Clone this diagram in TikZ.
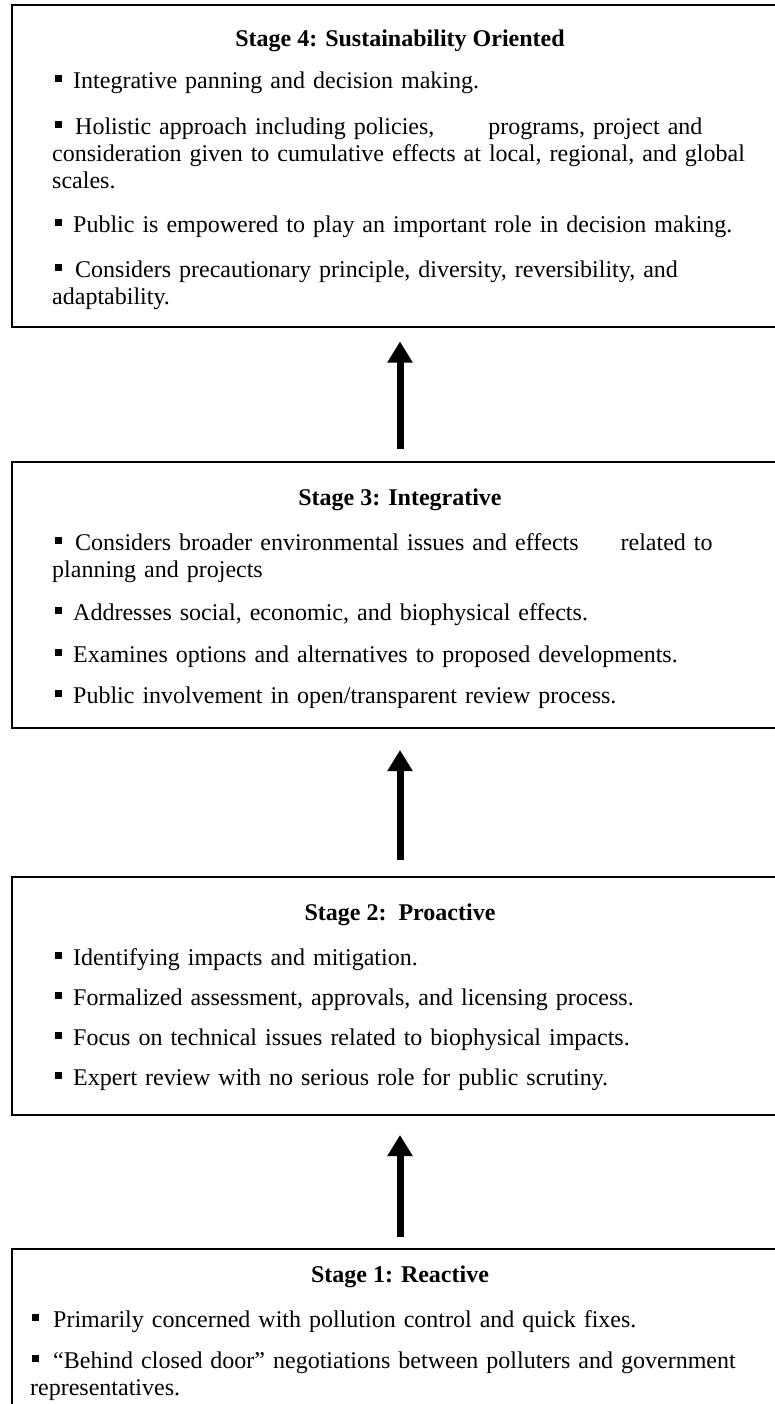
\documentclass[tikz,border=0pt]{standalone}
\usepackage{fontspec}
\setmainfont{Liberation Serif}
\usetikzlibrary{arrows.meta}
% small square bullet
\newcommand{\sqbul}{\rule[6.5pt]{7pt}{7pt}}
\newcommand{\firstln}[1]{\hspace*{3pt}\sqbul\hspace*{11pt}#1}
\begin{document}
\begin{tikzpicture}[x=1pt,y=-1pt,
  stagebox/.style={draw, line width=2pt, rectangle, anchor=north west,
    minimum width=778pt, inner sep=0pt, outer sep=0pt},
  heading/.style={anchor=base, inner sep=0pt,
    font=\fontsize{24}{27}\selectfont\bfseries},
  item/.style={anchor=base west, inner sep=0pt, align=left, text width=740pt,
    font=\fontsize{24}{27}\selectfont},
  uparrow/.style={line width=7pt, -{Triangle[width=24pt,length=21pt]}}]
\useasboundingbox (0,0) rectangle (775,1404);
\clip (0,0) rectangle (775,1404);

% stage frames
\node[stagebox, minimum height=321pt] (s4) at (11.5,5.5) {};
\node[stagebox, minimum height=266pt] (s3) at (11.5,462) {};
\node[stagebox, minimum height=238pt] (s2) at (11.5,877) {};
\node[stagebox, minimum height=200pt] (s1) at (11.5,1249) {};

% Stage 4
\node[heading] (t4) at (400,47) {Stage 4: Sustainability Oriented};
\node[item] (i4a) at (52,89) {\firstln{Integrative panning and decision making.}};
\node[item] (i4b) at (52,135) {\hspace*{3pt}\sqbul\hspace*{13pt}Holistic approach including policies,\hspace{54pt}programs, project and\\
  consideration given to cumulative effects at local, regional, and global\\
  scales.};
\node[item] (i4c) at (52,233) {\firstln{Public is empowered to play an important role in decision making.}};
\node[item] (i4d) at (52,278) {\hspace*{3pt}\sqbul\hspace*{13pt}Considers precautionary principle, diversity, reversibility, and\\
  adaptability.};

% Stage 3
\node[heading] (t3) at (400,505) {Stage 3: Integrative};
\node[item] (i3a) at (52,550) {\hspace*{3pt}\sqbul\hspace*{13pt}Considers broader environmental issues and effects\hspace{42pt}related to\\
  planning and projects};
\node[item] (i3b) at (52,620) {\firstln{Addresses social, economic, and biophysical effects.}};
\node[item] (i3c) at (52,662) {\firstln{Examines options and alternatives to proposed developments.}};
\node[item] (i3d) at (52,703) {\firstln{Public involvement in open/transparent review process.}};

% Stage 2
\node[heading] (t2) at (400,920) {Stage 2:\ \ Proactive};
\node[item] (i2a) at (52,965) {\firstln{Identifying impacts and mitigation.}};
\node[item] (i2b) at (52,1005) {\firstln{Formalized assessment, approvals, and licensing process.}};
\node[item] (i2c) at (52,1045) {\firstln{Focus on technical issues related to biophysical impacts.}};
\node[item] (i2d) at (52,1085) {\firstln{Expert review with no serious role for public scrutiny.}};

% Stage 1
\node[heading] (t1) at (400,1282) {Stage 1: Reactive};
\node[item] (i1a) at (30,1327) {\hspace*{2pt}\sqbul\hspace*{14pt}Primarily concerned with pollution control and quick fixes.};
\node[item] (i1b) at (30,1368) {\hspace*{2pt}\sqbul\hspace*{14pt}``Behind closed door'' negotiations between polluters and government\\
  representatives.};

% progression arrows
\coordinate (ax) at (400,0);
\draw[uparrow, shorten <=13pt, shorten >=15pt] (s3.north -| ax) -- (s4.south -| ax);
\draw[uparrow, shorten <=17pt, shorten >=22pt] (s2.north -| ax) -- (s3.south -| ax);
\draw[uparrow, shorten <=12pt, shorten >=20pt] (s1.north -| ax) -- (s2.south -| ax);
\end{tikzpicture}
\end{document}
